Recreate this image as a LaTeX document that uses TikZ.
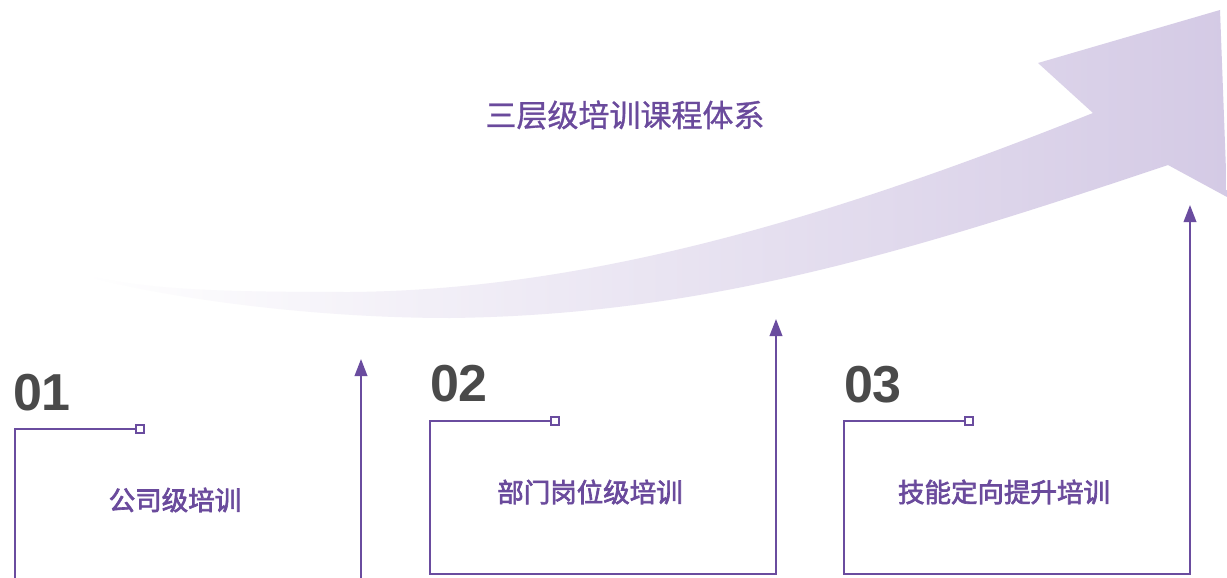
\documentclass[tikz,border=0pt]{standalone}
\usepackage{fontspec}
\newfontfamily\cjk{Noto Sans CJK SC}
\newfontfamily\cjkmed[FakeBold=2.5]{Noto Sans CJK SC}
\newfontfamily\cjktitle[FakeBold=1]{Noto Sans CJK SC}
\newfontfamily\numfont{Liberation Sans}
\usetikzlibrary{arrows.meta}
\definecolor{linepurple}{HTML}{6A4C9F}
\definecolor{textpurple}{HTML}{6A4A9C}
\definecolor{numgray}{HTML}{4A4A4A}
\definecolor{lav}{HTML}{D4CAE5}
\tikzset{
  boxline/.style={draw=linepurple, line width=2.1pt, line join=miter},
  uparrow/.style={-{Triangle[width=12.5pt,length=17pt]}},
  sq/.style={draw=linepurple, fill=white, line width=1.6pt, minimum size=8.5pt, inner sep=0pt},
  numtxt/.style={font=\numfont\bfseries\fontsize{52}{60}\selectfont, text=numgray, inner sep=0pt},
  lbltxt/.style={font=\cjkmed\fontsize{26.5}{30}\selectfont, text=textpurple, inner sep=0pt},
  titletxt/.style={font=\cjktitle\fontsize{31}{36}\selectfont, text=textpurple, inner sep=0pt}
}
\begin{document}
\begin{tikzpicture}[x=1pt,y=-1pt]
\useasboundingbox (0,0) rectangle (1227,578);
\clip (0,0) rectangle (1227,578);
\fill[white] (0,0) rectangle (1227,578);
% big curved arrow
\shade[left color=white, right color=lav, shading angle=90]
  (1038,63) -- (1220,10) -- (1227,197) -- (1168,165)
  .. controls (900,255) and (700,315) .. (450,318)
  .. controls (300,318) and (150,295) .. (83,275)
  .. controls (150,290) and (220,292) .. (350,292)
  .. controls (600,290) and (850,210) .. (1093,113)
  -- cycle;
\node[titletxt] (title) at (625,115) {三层级培训课程体系};
% box 1
\node[numtxt] (n1) at (42,393) {01};
\coordinate (tl1) at (15,429);
\coordinate (bl1) at (15,595);
\coordinate (br1) at (361,595);
\coordinate (tip1) at (361,359);
\node[sq] (s1) at (140,429) {};
\draw[boxline, uparrow] (s1.west) -- (tl1) -- (bl1) -- (br1) -- (tip1);
\node[lbltxt] (l1) at (175,500) {公司级培训};
% box 2
\node[numtxt] (n2) at (459,384) {02};
\coordinate (tl2) at (430,421);
\coordinate (bl2) at (430,574);
\coordinate (br2) at (776,574);
\coordinate (tip2) at (776,319);
\node[sq] (s2) at (555,421) {};
\draw[boxline, uparrow] (s2.west) -- (tl2) -- (bl2) -- (br2) -- (tip2);
\node[lbltxt] (l2) at (590,492) {部门岗位级培训};
% box 3
\node[numtxt] (n3) at (873,385) {03};
\coordinate (tl3) at (844,421);
\coordinate (bl3) at (844,574);
\coordinate (br3) at (1190,574);
\coordinate (tip3) at (1190,205);
\node[sq] (s3) at (969,421) {};
\draw[boxline, uparrow] (s3.west) -- (tl3) -- (bl3) -- (br3) -- (tip3);
\node[lbltxt] (l3) at (1004,492) {技能定向提升培训};
\end{tikzpicture}
\end{document}
